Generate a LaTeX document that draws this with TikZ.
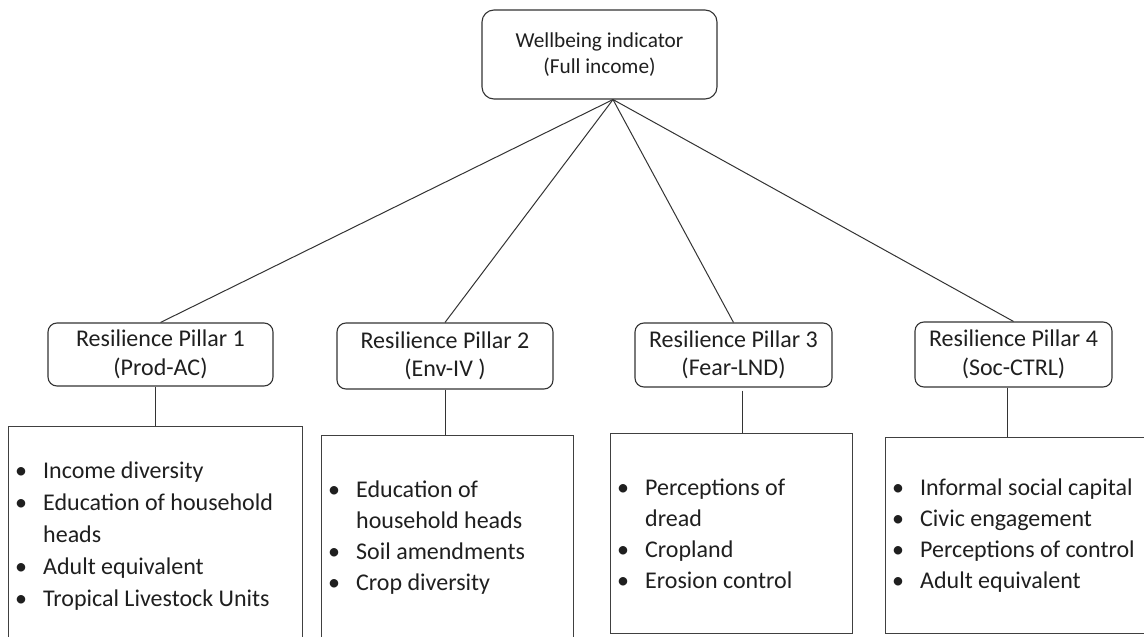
\documentclass[tikz,border=0pt]{standalone}
\usepackage{fontspec}
\setmainfont{Carlito}
\usetikzlibrary{calc}

% item list with a hanging bullet column
\newcommand{\bulletlist}[1]{%
  \begin{tabular}{@{}p{22pt}@{}l@{}}#1\end{tabular}}
\newcommand{\itm}{\makebox[0pt][c]{\textbullet}&}

\begin{document}
\begin{tikzpicture}[x=1pt,y=-1pt,
  every node/.style={text=black!88},
  topbox/.style={draw=black!80, line width=1.1pt, rounded corners=12pt,
    minimum width=235pt, minimum height=89pt, inner sep=0pt,
    font=\fontsize{21.3}{26}\selectfont, align=center},
  pillar/.style={draw=black!80, line width=1.1pt, rounded corners=9pt,
    inner sep=0pt, font=\fontsize{24}{28.5}\selectfont, align=center},
  listbox/.style={draw=black!75, line width=1.1pt, anchor=north west, inner sep=0pt},
  listtext/.style={anchor=north west, inner sep=0pt,
    font=\fontsize{24}{31}\selectfont},
  link/.style={draw=black!80, line width=1pt}
]
\path[use as bounding box] (0,0) rectangle (1144,637);
\clip (0,0) rectangle (1144,637);

% top indicator
\node[topbox] (top) at (599.5,54.5) {Wellbeing indicator\\(Full income)};
\coordinate (apex) at ([xshift=13.5pt]top.south);

% the four pillars
\node[pillar, minimum width=225pt, minimum height=63pt] (p1) at (160.5,354.5)
  {Resilience Pillar 1\\(Prod-AC)};
\node[pillar, minimum width=216pt, minimum height=66pt] (p2) at (445,356)
  {Resilience Pillar 2\\(Env-IV )};
\node[pillar, minimum width=197pt, minimum height=64pt] (p3) at (733.5,355)
  {Resilience Pillar 3\\(Fear-LND)};
\node[pillar, minimum width=197pt, minimum height=65pt] (p4) at (1013.5,354.5)
  {Resilience Pillar 4\\(Soc-CTRL)};

% component boxes
\node[listbox, minimum width=294pt, minimum height=240pt] (l1) at (8,426) {};
\node[listbox, minimum width=252pt, minimum height=230pt] (l2) at (321,435) {};
\node[listbox, minimum width=242pt, minimum height=200pt] (l3) at (610,433) {};
\node[listbox, minimum width=270pt, minimum height=196pt] (l4) at (885,437) {};

% component texts (first baseline sits 0.7 of a line below the node top)
\node[listtext, font=\fontsize{24}{32}\selectfont] (t1)
  at ([xshift=13pt,yshift=-29.6pt]l1.north west) {\bulletlist{%
  \itm Income diversity\\
  \itm Education of household\\
  & heads\\
  \itm Adult equivalent\\
  \itm Tropical Livestock Units}};
\node[listtext] (t2) at ([xshift=13pt,yshift=-40.3pt]l2.north west) {\bulletlist{%
  \itm Education of\\
  & household heads\\
  \itm Soil amendments\\
  \itm Crop diversity}};
\node[listtext] (t3) at ([xshift=13pt,yshift=-40.3pt]l3.north west) {\bulletlist{%
  \itm Perceptions of\\
  & dread\\
  \itm Cropland\\
  \itm Erosion control}};
\node[listtext] (t4) at ([xshift=13pt,yshift=-36.3pt]l4.north west) {\bulletlist{%
  \itm Informal social capital\\
  \itm Civic engagement\\
  \itm Perceptions of control\\
  \itm Adult equivalent}};

% links from the indicator to the pillars
\foreach \p in {p1,p2,p3,p4}
  \draw[link] (apex) -- (\p.north);

% links from the pillars to their components
\draw[link] ([xshift=-5.5pt]p1.south) -- ([xshift=-5.5pt]p1.south |- l1.north);
\draw[link] (p2.south) -- (p2.south |- l2.north);
\draw[link] ([xshift=8.5pt,yshift=-3pt]p3.south) -- ([xshift=8.5pt]p3.south |- l3.north);
\draw[link] ([xshift=-6.5pt]p4.south) -- ([xshift=-6.5pt]p4.south |- l4.north);
\end{tikzpicture}
\end{document}
